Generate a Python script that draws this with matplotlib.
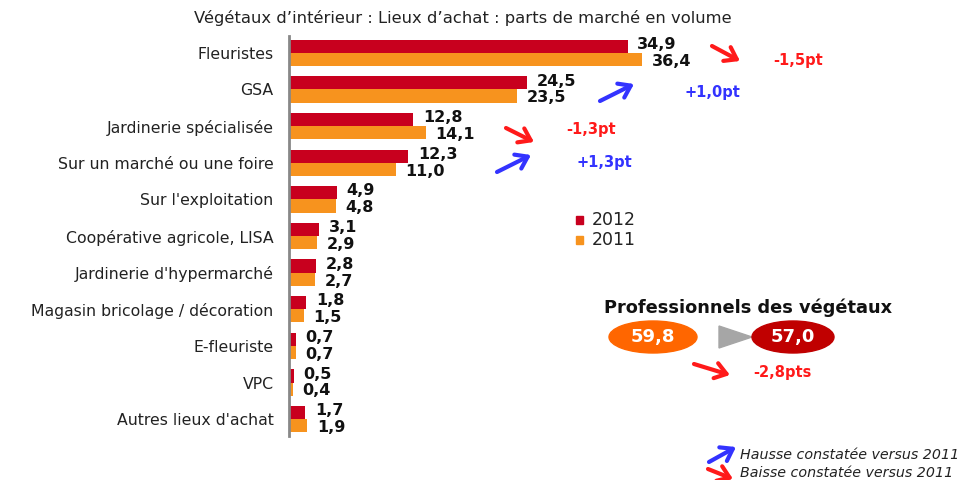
import matplotlib
matplotlib.use("Agg")
import matplotlib.pyplot as plt
from matplotlib.patches import Ellipse, Polygon, FancyArrowPatch

categories = ["Fleuristes", "GSA", "Jardinerie spécialisée", "Sur un marché ou une foire",
              "Sur l'exploitation", "Coopérative agricole, LISA", "Jardinerie d'hypermarché",
              "Magasin bricolage / décoration", "E-fleuriste", "VPC", "Autres lieux d'achat"]
values_2012 = [34.9, 24.5, 12.8, 12.3, 4.9, 3.1, 2.8, 1.8, 0.7, 0.5, 1.7]
values_2011 = [36.4, 23.5, 14.1, 11.0, 4.8, 2.9, 2.7, 1.5, 0.7, 0.4, 1.9]
labels_2012 = ["34,9", "24,5", "12,8", "12,3", "4,9", "3,1", "2,8", "1,8", "0,7", "0,5", "1,7"]
labels_2011 = ["36,4", "23,5", "14,1", "11,0", "4,8", "2,9", "2,7", "1,5", "0,7", "0,4", "1,9"]
series_names = ["2012", "2011"]
pro_values = ["59,8", "57,0"]

C2012 = "#C8001E"
C2011 = "#F7931E"

W, H = 968, 480
fig = plt.figure(figsize=(W / 100, H / 100), dpi=100)
fig.patch.set_facecolor("white")

ax_l, ax_t, ax_b = 289, 36, 436
ax = fig.add_axes([ax_l / W, 1 - ax_b / H, (W - ax_l) / W, (ax_b - ax_t) / H])
ax.set_xlim(0, 70)
ax.set_ylim(len(categories) - 0.54, -0.46)

bh = 0.36
ys = list(range(len(categories)))
ax.barh([y - bh / 2 for y in ys], values_2012, height=bh, color=C2012, label=series_names[0])
ax.barh([y + bh / 2 for y in ys], values_2011, height=bh, color=C2011, label=series_names[1])

for y, v, s in zip(ys, values_2012, labels_2012):
    ax.annotate(s, (v, y - bh / 2 - 0.05), xytext=(7, 0), textcoords="offset points",
                ha="left", va="center", fontsize=11.5, fontweight="bold", color="#111111")
for y, v, s in zip(ys, values_2011, labels_2011):
    ax.annotate(s, (v, y + bh / 2 + 0.05), xytext=(7, 0), textcoords="offset points",
                ha="left", va="center", fontsize=11.5, fontweight="bold", color="#111111")

ax.set_yticks(ys)
ax.set_yticklabels(categories, fontsize=11.3, color="#222222")
ax.tick_params(axis="y", length=0, pad=11)
ax.set_xticks([])
for sp in ["top", "right", "bottom"]:
    ax.spines[sp].set_visible(False)
ax.spines["left"].set_color("#888888")
ax.spines["left"].set_linewidth(2)

def fx(x):
    return x / W

def fy(y):
    return 1 - y / H

fig.text(fx(463), fy(18), "Végétaux d’intérieur : Lieux d’achat : parts de marché en volume",
         ha="center", va="center", fontsize=11.8, color="#222222")

# legend
for yy, c, n in [(220, C2012, series_names[0]), (240, C2011, series_names[1])]:
    fig.patches.append(plt.Rectangle((fx(576), fy(yy + 4)), 7 / W, 8 / H, color=c,
                                     transform=fig.transFigure, figure=fig))
    fig.text(fx(592), fy(yy), n, ha="left", va="center", fontsize=12.5, color="#222222")

def arrow(x0, y0, x1, y1, color):
    a = FancyArrowPatch((fx(x0), fy(y0)), (fx(x1), fy(y1)), transform=fig.transFigure,
                        arrowstyle="->,head_length=5,head_width=3.5", lw=3, color=color,
                        mutation_scale=1.6, shrinkA=0, shrinkB=0)
    fig.patches.append(a)

RED = "#FF1A1A"
BLUE = "#3333FF"
arrow(712, 46, 740, 61, RED)
fig.text(fx(773), fy(60), "-1,5pt", color=RED, fontsize=10.5, fontweight="bold", va="center")
arrow(600, 101, 634, 84, BLUE)
fig.text(fx(684), fy(92), "+1,0pt", color=BLUE, fontsize=10.5, fontweight="bold", va="center")
arrow(506, 128, 534, 142, RED)
fig.text(fx(566), fy(130), "-1,3pt", color=RED, fontsize=10.5, fontweight="bold", va="center")
arrow(497, 172, 531, 155, BLUE)
fig.text(fx(576), fy(162), "+1,3pt", color=BLUE, fontsize=10.5, fontweight="bold", va="center")

fig.text(fx(748), fy(308), "Professionnels des végétaux", ha="center", va="center",
         fontsize=12.8, fontweight="bold", color="#111111")
e1 = Ellipse((fx(653), fy(337)), 88 / W, 32 / H, color="#FF6600", transform=fig.transFigure)
e2 = Ellipse((fx(793), fy(337)), 82 / W, 32 / H, color="#C00000", transform=fig.transFigure)
tri = Polygon([(fx(719), fy(326)), (fx(719), fy(348)), (fx(752), fy(337))], closed=True,
              color="#A6A6A6", transform=fig.transFigure)
for p in (e1, tri, e2):
    fig.patches.append(p)
fig.text(fx(653), fy(337), pro_values[0], ha="center", va="center", fontsize=13,
         fontweight="bold", color="white")
fig.text(fx(793), fy(337), pro_values[1], ha="center", va="center", fontsize=13,
         fontweight="bold", color="white")
arrow(694, 364, 730, 375, RED)
fig.text(fx(753), fy(373), "-2,8pts", color=RED, fontsize=10.5, fontweight="bold", va="center")

arrow(709, 462, 736, 447, BLUE)
fig.text(fx(740), fy(455), "Hausse constatée versus 2011", fontsize=10.3, style="italic",
         color="#222222", va="center")
arrow(708, 469, 733, 479, RED)
fig.text(fx(740), fy(473), "Baisse constatée versus 2011", fontsize=10.3, style="italic",
         color="#222222", va="center")

fig.savefig("out.png", dpi=100, facecolor="white")
